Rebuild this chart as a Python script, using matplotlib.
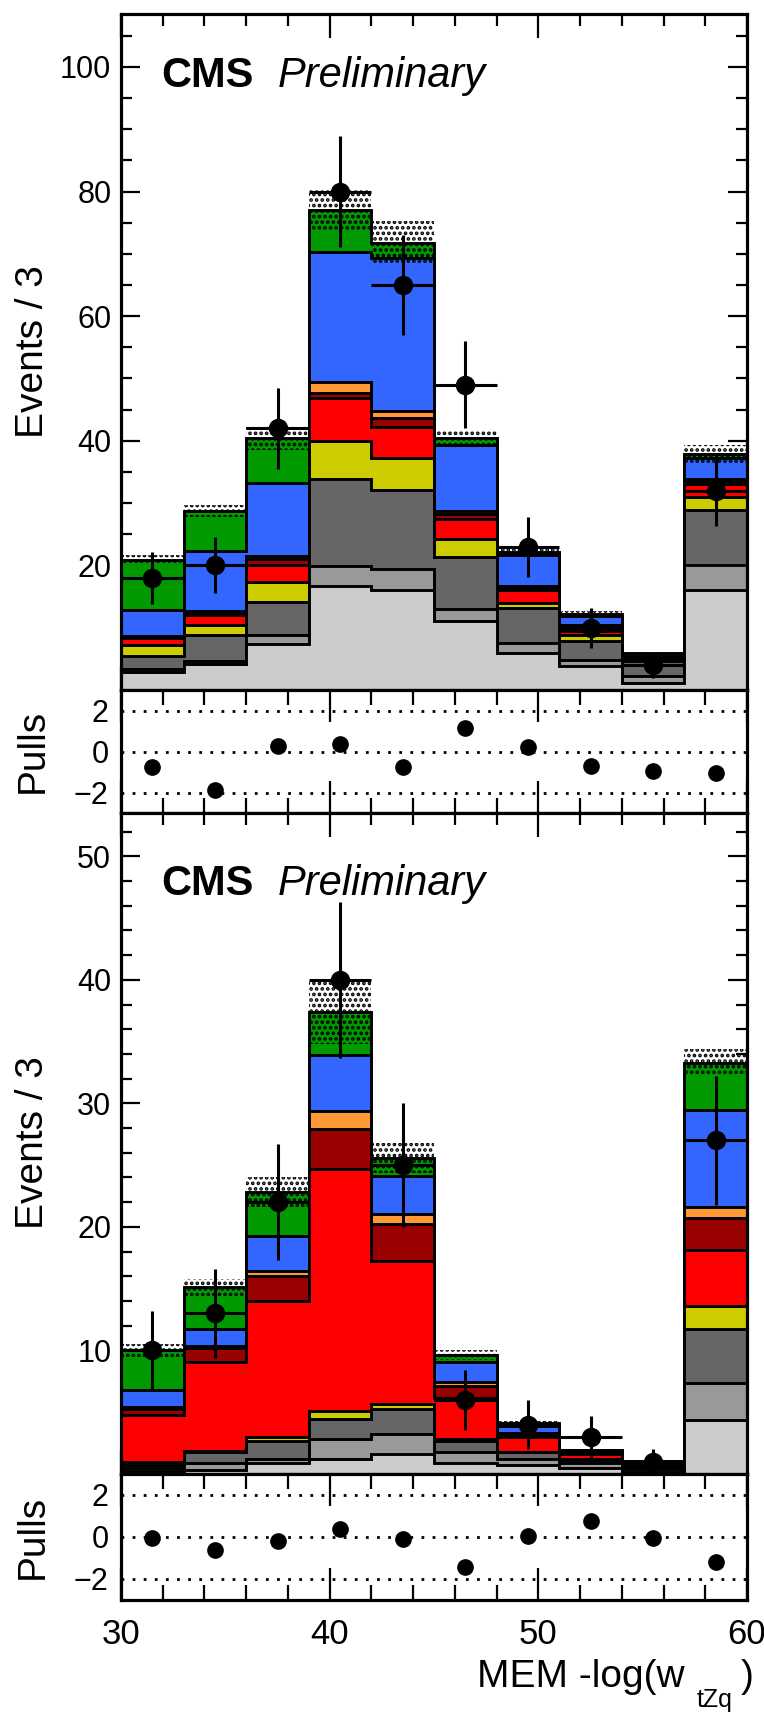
import numpy as np
import matplotlib
matplotlib.use("Agg")
import matplotlib.pyplot as plt

plt.rcParams['font.family'] = ['Liberation Sans', 'DejaVu Sans']
plt.rcParams['hatch.linewidth'] = 1.8

# ---------------- data ----------------
edges = [30, 33, 36, 39, 42, 45, 48, 51, 54, 57, 60]
centers = [31.5, 34.5, 37.5, 40.5, 43.5, 46.5, 49.5, 52.5, 55.5, 58.5]

colors = ['#cccccc', '#999999', '#666666', '#cccc00', '#ff0000',
          '#990000', '#ff9933', '#3366ff', '#009900']

# top panel components (bottom -> top of stack)
top_lgray  = [2.9, 4.1, 7.4, 16.7, 16.1, 11.0, 5.9, 3.8, 1.2, 16.1]
top_mgray  = [0.4, 0.5, 1.4, 3.2, 3.3, 2.0, 1.7, 1.0, 1.1, 4.0]
top_dgray  = [2.2, 4.3, 5.4, 14.0, 12.7, 8.4, 5.5, 3.1, 2.3, 8.8]
top_yellow = [1.8, 1.5, 3.2, 6.1, 5.1, 2.8, 0.9, 0.9, 0.1, 2.1]
top_red    = [1.1, 1.6, 2.7, 6.8, 5.0, 3.3, 2.0, 0.7, 0.2, 2.0]
top_dred   = [0.1, 0.4, 0.9, 0.8, 1.4, 0.7, 0.5, 0.7, 0.1, 0.6]
top_orange = [0.1, 0.3, 0.5, 1.9, 1.2, 0.5, 0.2, 0.2, 0.1, 0.3]
top_blue   = [4.2, 9.6, 11.7, 20.8, 24.5, 10.6, 5.0, 1.4, 0.4, 3.3]
top_green  = [8.1, 6.4, 7.2, 6.7, 2.5, 1.1, 0.4, 0.4, 0.4, 0.7]
top_unc    = [0.8, 1.0, 1.8, 3.3, 3.5, 1.3, 0.6, 0.4, 0.2, 1.4]
top_data   = [18, 20, 42, 80, 65, 49, 23, 10, 4, 32]
top_err    = [4.2, 4.5, 6.5, 8.9, 8.1, 7.0, 4.8, 3.2, 2.0, 5.7]
top_pulls  = [-0.75, -1.87, 0.27, 0.35, -0.75, 1.15, 0.24, -0.69, -0.94, -1.04]

# bottom panel components
bot_lgray  = [0.25, 0.35, 0.9, 1.2, 1.6, 0.9, 0.7, 0.5, 0.2, 4.4]
bot_mgray  = [0.2, 0.55, 0.3, 1.6, 1.6, 0.85, 0.5, 0.4, 0.2, 3.0]
bot_dgray  = [0.3, 0.85, 1.5, 1.65, 2.1, 0.95, 0.55, 0.25, 0.2, 4.35]
bot_yellow = [0.2, 0.15, 0.3, 0.65, 0.4, 0.1, 0.05, 0.05, 0.05, 1.85]
bot_red    = [3.79, 7.2, 11.0, 19.6, 11.5, 3.35, 1.2, 0.4, 0.1, 4.5]
bot_dred   = [0.56, 1.1, 2.0, 3.2, 3.0, 1.0, 0.2, 0.15, 0.05, 2.6]
bot_orange = [0.1, 0.2, 0.4, 1.5, 0.85, 0.3, 0.1, 0.05, 0.05, 0.9]
bot_blue   = [1.4, 1.35, 2.9, 4.5, 3.05, 1.6, 0.55, 0.1, 0.15, 7.9]
bot_green  = [3.2, 3.35, 3.5, 3.5, 1.5, 0.6, 0.25, 0.05, 0.05, 3.8]
bot_unc    = [0.5, 0.7, 1.2, 2.6, 1.2, 0.4, 0.2, 0.1, 0.05, 1.1]
bot_data   = [10, 13, 22, 40, 25, 6, 4, 3, 1, 27]
bot_err    = [3.2, 3.6, 4.7, 6.3, 5.0, 2.45, 2.0, 1.7, 1.0, 5.2]
bot_pulls  = [-0.05, -0.6, -0.19, 0.39, -0.11, -1.41, 0.03, 0.74, -0.05, -1.18]

top_stack = [top_lgray, top_mgray, top_dgray, top_yellow, top_red,
             top_dred, top_orange, top_blue, top_green]
bot_stack = [bot_lgray, bot_mgray, bot_dgray, bot_yellow, bot_red,
             bot_dred, bot_orange, bot_blue, bot_green]

# ---------------- layout ----------------
W, H = 764, 1712
fig = plt.figure(figsize=(W / 100, H / 100), dpi=100)
L, R = 121, 747


def ax_at(top_px, bot_px):
    return fig.add_axes([L / W, 1 - bot_px / H, (R - L) / W, (bot_px - top_px) / H])


ax1 = ax_at(14, 690)
axp1 = ax_at(690, 813)
ax2 = ax_at(813, 1474)
axp2 = ax_at(1474, 1600)

LW = 2.1


def draw_main(ax, stack, unc, data, err, ymax, ymajor, yminor, ylabels):
    cum = np.cumsum(np.array(stack, dtype=float), axis=0)
    for i in range(len(stack) - 1, -1, -1):
        ax.stairs(cum[i], edges, baseline=0, fill=True, facecolor=colors[i],
                  edgecolor='black', linewidth=LW, zorder=2)
    total = cum[-1]
    unc = np.array(unc)
    ax.stairs(total + unc, edges, baseline=total - unc, fill=True,
              facecolor='none', edgecolor='black', hatch='...',
              linewidth=0, zorder=3)
    ax.errorbar(centers, data, xerr=1.5, yerr=err, fmt='o', color='black',
                ms=13, elinewidth=2.2, capsize=0, zorder=5)
    ax.set_xlim(30, 60)
    ax.set_ylim(0, ymax)
    ax.set_yticks(ymajor)
    ax.set_yticklabels(ylabels)
    ax.set_yticks(yminor, minor=True)
    ax.set_xticks([30, 40, 50, 60])
    ax.set_xticks(np.arange(30, 61, 2), minor=True)
    ax.tick_params(axis='both', which='both', direction='in', top=True,
                   right=True, width=1.6, labelsize=22, pad=7)
    ax.tick_params(axis='x', which='major', length=17, labelbottom=False)
    ax.tick_params(axis='x', which='minor', length=8.5)
    ax.tick_params(axis='y', which='major', length=14)
    ax.tick_params(axis='y', which='minor', length=8)
    for s in ax.spines.values():
        s.set_linewidth(2.3)
        s.set_zorder(10)


def draw_pulls(ax, pulls, bottom_labels):
    for yv in (-2, 0, 2):
        ax.axhline(yv, color='black', linestyle=(0, (1, 3)), linewidth=2.0, zorder=1)
    ax.plot(centers, pulls, 'o', color='black', ms=11, zorder=5)
    ax.set_xlim(30, 60)
    ax.set_ylim(-3, 3)
    ax.set_yticks([-2, 0, 2])
    ax.set_xticks([30, 40, 50, 60])
    ax.set_xticks(np.arange(30, 61, 2), minor=True)
    ax.tick_params(axis='y', which='both', length=0, labelsize=22, pad=9)
    ax.tick_params(axis='x', which='both', direction='in', top=True,
                   bottom=True, width=1.6, labelsize=25, pad=13,
                   labelbottom=bottom_labels)
    ax.tick_params(axis='x', which='major', length=23)
    ax.tick_params(axis='x', which='minor', length=10.5)
    for s in ax.spines.values():
        s.set_linewidth(2.3)
        s.set_zorder(10)


draw_main(ax1, top_stack, top_unc, top_data, top_err, 108.5,
          [20, 40, 60, 80, 100], np.arange(5, 108, 5),
          ['20', '40', '60', '80', '100'])
draw_pulls(axp1, top_pulls, False)
draw_main(ax2, bot_stack, bot_unc, bot_data, bot_err, 53.5,
          [10, 20, 30, 40, 50], np.arange(2, 53.5, 2),
          ['10', '20', '30', '40', '50'])
draw_pulls(axp2, bot_pulls, True)

# texts
for base_y in (87, 895):
    fig.text(161 / W, 1 - base_y / H, 'CMS', fontsize=30, fontweight='bold',
             va='baseline', ha='left')
    fig.text(278 / W, 1 - base_y / H, 'Preliminary', fontsize=30,
             fontstyle='italic', va='baseline', ha='left')

fig.text(33 / W, 1 - 352 / H, 'Events / 3', rotation=90, fontsize=28,
         ha='center', va='center')
fig.text(33 / W, 1 - 1143 / H, 'Events / 3', rotation=90, fontsize=28,
         ha='center', va='center')
fig.text(33 / W, 1 - 751 / H, 'Pulls', rotation=90, fontsize=28,
         ha='center', va='center')
fig.text(33 / W, 1 - 1537 / H, 'Pulls', rotation=90, fontsize=28,
         ha='center', va='center')

fig.text(685 / W, 1 - 1687 / H, 'MEM -log(w', fontsize=28, ha='right',
         va='baseline')
fig.text(697 / W, 1 - 1707 / H, 'tZq', fontsize=18, ha='left', va='baseline')
fig.text(754 / W, 1 - 1687 / H, ')', fontsize=28, ha='right', va='baseline')

fig.savefig('out.png', dpi=100)
